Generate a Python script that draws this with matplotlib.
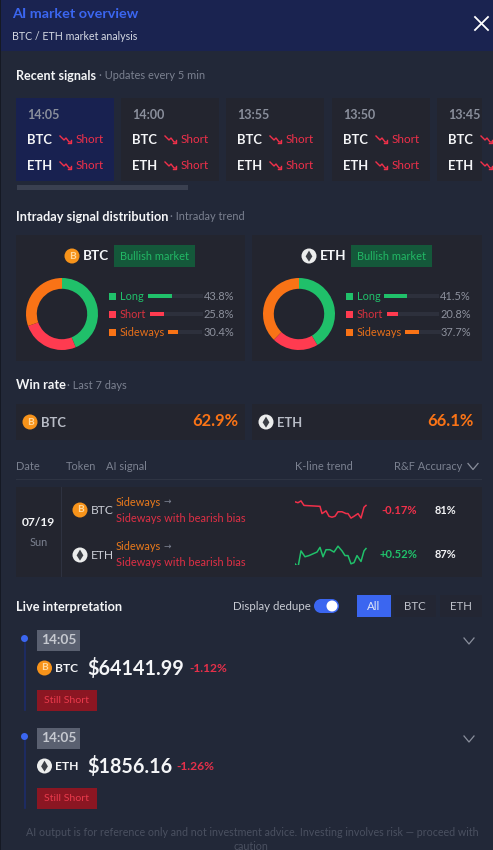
import matplotlib
matplotlib.use("Agg")
import matplotlib.pyplot as plt
from matplotlib.patches import Rectangle, Circle, Polygon

plt.rcParams['font.family'] = ['Lato', 'DejaVu Sans']

# ---------- data ----------
signal_times = ["14:05", "14:00", "13:55", "13:50", "13:45"]
dist_labels = ["Long", "Short", "Sideways"]
btc_dist = [43.8, 25.8, 30.4]
eth_dist = [41.5, 20.8, 37.7]
win_rates = {"BTC": "62.9%", "ETH": "66.1%"}
table_headers = ["Date", "Token", "AI signal", "K-line trend", "R&F Accuracy"]
btc_t = [0, 3, 6, 9, 25, 27, 31, 34, 37, 40, 43, 47, 51, 53, 56, 59, 63, 66, 69, 71]
btc_v = [84, 83, 85, 80, 79, 71, 74, 68, 67, 68, 73, 73, 71, 71, 66, 68, 71, 66, 78, 80]
eth_t = [0, 3, 6, 10, 14, 22, 25, 28, 31, 35, 39, 43, 47, 50, 53, 56, 59, 62, 66, 69, 71]
eth_v = [53, 50, 64, 59, 60, 63, 67, 59, 65, 65, 63, 68, 64, 60, 60, 53, 54, 60, 55, 64, 66]

BG = "#222838"; HEAD = "#1a2350"; CARD = "#23252f"; CARDB = "#182150"
RED = "#f0304a"; GREEN = "#20c06a"; ORANGE = "#f97316"; BLUE = "#3b66f0"
GREY = "#7b8190"; WHITE = "#f4f5f7"
SERIES = [GREEN, "#ff3b50", ORANGE]

W, H = 493, 850
fig = plt.figure(figsize=(W / 100, H / 100), dpi=100, facecolor=BG)
ax = fig.add_axes([0, 0, 1, 1])
ax.set_xlim(0, W); ax.set_ylim(H, 0); ax.axis("off")


def px(s):
    return s * 0.72


def T(x, y, s, size=12, color=WHITE, weight="normal", ha="left", va="center", **kw):
    return ax.text(x, y, s, fontsize=px(size), color=color, fontweight=weight, ha=ha, va=va, **kw)


def R(x0, y0, x1, y1, c, z=1):
    p = Rectangle((x0, y0), x1 - x0, y1 - y0, facecolor=c, edgecolor="none", zorder=z)
    ax.add_patch(p)
    return p


def coin(cx, cy, kind, r=7.5):
    if kind == "BTC":
        ax.add_patch(Circle((cx, cy), r, facecolor="#f7931a", edgecolor="none", zorder=3))
        ax.text(cx, cy, "B", fontsize=px(r * 1.35), color="#ffd9a0", fontweight="bold",
                ha="center", va="center", zorder=4)
    else:
        ax.add_patch(Circle((cx, cy), r, facecolor="#eceded", edgecolor="none", zorder=3))
        ax.add_patch(Polygon([(cx, cy - r * .72), (cx + r * .45, cy + r * .05), (cx, cy + r * .75),
                              (cx - r * .45, cy + r * .05)], closed=True, facecolor="#3c3f46",
                             edgecolor="none", zorder=4))


def chevron(cx, cy, c="#8a8f9c"):
    ax.plot([cx - 5, cx, cx + 5], [cy - 3, cy + 3, cy - 3], color=c, lw=0.9, zorder=4)


# ---------- header ----------
R(0, 0, W, 51, HEAD)
R(0, 0, 1, H, "#151924", 2)
T(12, 14, "AI market overview", 14.4, BLUE, "bold")
T(12, 36.5, "BTC / ETH market analysis", 10.6, "#d5d9e3")
ax.plot([475, 488], [17, 30], color="white", lw=1.3)
ax.plot([475, 488], [30, 17], color="white", lw=1.3)

# ---------- recent signals ----------
T(16, 75.5, "Recent signals", 12.6, WHITE, "bold")
T(99, 75, "· Updates every 5 min", 11, GREY)
card_edges = [(16, 114), (121, 219), (226, 324), (332, 430), (437, 482)]
text_x = [27, 132, 237, 343, 448]
clip = Rectangle((0, 0), 482, H, transform=ax.transData)
for i, (t, (a, b), x) in enumerate(zip(signal_times, card_edges, text_x)):
    R(a, 98, b, 181, CARDB if i == 0 else CARD)
    T(x, 115, t, 12.5, "#8a8f9c", "bold")
    for y, tok in ((139.5, "BTC"), (165.5, "ETH")):
        T(x, y, tok, 13, WHITE, "bold")
        ax.plot([x + 33, x + 37, x + 39, x + 42, x + 44], [y - 3.5, y + .5, y - 1.5, y + 2.5, y + 2.5],
                color=RED, lw=1, zorder=4, clip_path=clip)
        ax.plot([x + 41, x + 44, x + 44], [y + 3, y + 3, y],
                color=RED, lw=1, zorder=4, clip_path=clip)
        if i < 4:
            T(x + 49, y - .5, "Short", 11.6, RED)
R(17, 185, 188, 190, "#3a4050")

# ---------- intraday ----------
T(16, 216.5, "Intraday signal distribution", 12.7, WHITE, "bold")
T(170, 216, "· Intraday trend", 11, GREY)

tracks = {"BTC": [(148, 203), (150, 203), (168, 202)], "ETH": [(384, 439), (387, 439), (405, 442)]}
fill_scale = 55 / 100.0


def panel(x0, x1, tok, dist, coin_x, badge_x, offset):
    R(x0, 235, x1, 361, CARD)
    coin(coin_x, 256, tok)
    T(coin_x + 11, 256.5, tok, 13.5, WHITE, "bold")
    R(badge_x, 245, badge_x + 81, 267, "#14583a")
    T(badge_x + 40.5, 256, "Bullish market", 11, "#22b865", ha="center")
    cx = 62 + offset
    pie_ax = fig.add_axes([(cx - 36) / W, 1 - (314 + 36) / H, 72 / W, 72 / H])
    pie_ax.pie(dist, colors=SERIES, startangle=90, counterclock=False, radius=1,
               wedgeprops=dict(width=0.30, edgecolor="none"))
    pie_ax.set_xlim(-1, 1); pie_ax.set_ylim(-1, 1); pie_ax.axis("off")
    ys = [296, 314, 332]
    lab_c = [GREEN, "#d8323f", "#e8701a"]
    for y, lab, v, sc, lc, (ta, tb) in zip(ys, dist_labels, dist, SERIES, lab_c, tracks[tok]):
        R(109 + offset, y - 3.5, 116 + offset, y + 3.5, sc)
        T(120 + offset, y + .5, lab, 11, lc)
        R(ta, y - 2, tb, y + 2, "#2d303c")
        R(ta, y - 2, ta + v * fill_scale * (tb - ta) / 55, y + 2, sc, 2)
        T(234 + (offset if tok == "BTC" else 237), y + .5, f"{v}%", 11, "#8d919d", ha="right")


panel(16, 245, "BTC", btc_dist, 72, 114, 0)
panel(252, 482, "ETH", eth_dist, 309, 351, 237)

# ---------- win rate ----------
T(16, 385, "Win rate", 12.8, WHITE, "bold")
T(67, 385, "· Last 7 days", 11, GREY)
for x0, x1, tok, cx, rx in ((16, 245, "BTC", 30, 238), (252, 482, "ETH", 266, 474)):
    R(x0, 404, x1, 440, CARD)
    coin(cx, 422, tok)
    T(cx + 11, 422.5, tok, 13, "#b8bcc6", "bold")
    T(rx, 421, win_rates[tok], 16.5, ORANGE, "bold", ha="right")

# ---------- table ----------
for x, h in zip([16, 66, 106, 295, 394], table_headers):
    T(x, 466.5, h, 11, GREY)
chevron(473, 466.5)
R(16, 479, 482, 480, "#2e3443")
R(16, 487, 482, 577, CARD)
R(61, 487, 62, 577, "#2e3240")
T(38.5, 523, "07/19", 12, WHITE, "bold", ha="center")
T(38.5, 543, "Sun", 11, GREY, ha="center")
rows = [("BTC", 510, "-0.17%", RED, "81%"), ("ETH", 555, "+0.52%", GREEN, "87%")]
for tok, y, chg, col, acc in rows:
    coin(80, y, tok)
    T(91, y + .5, tok, 12, "#c9ccd4")
    T(116, y - 8, "Sideways", 11, "#ea7a1c")
    T(163, y - 8.5, "→", 9, "#7b8190", family="DejaVu Sans")
    T(116, y + 8, "Sideways with bearish bias", 11, "#df2f45")
    T(417, y, chg, 11.2, col, "bold", ha="right")
    T(445, y, acc, 11, WHITE, "bold", ha="center")

sp_btc = fig.add_axes([295 / W, 1 - 519 / H, 72 / W, 19 / H])
sp_btc.plot(btc_t, btc_v, color=RED, lw=1.1)
sp_btc.set_xlim(0, 72); sp_btc.set_ylim(65, 86); sp_btc.axis("off")
sp_eth = fig.add_axes([295 / W, 1 - 565 / H, 72 / W, 20 / H])
sp_eth.plot(eth_t, eth_v, color=GREEN, lw=1.1)
sp_eth.set_xlim(0, 72); sp_eth.set_ylim(52, 69); sp_eth.axis("off")

# ---------- live ----------
T(16, 607, "Live interpretation", 12.7, WHITE, "bold")
T(233, 606.5, "Display dedupe", 11.5, "#c9ccd4")
R(321, 599, 332, 613, BLUE, 2)
ax.add_patch(Circle((321, 606), 7, facecolor=BLUE, edgecolor="none", zorder=2))
ax.add_patch(Circle((332, 606), 7, facecolor=BLUE, edgecolor="none", zorder=2))
ax.add_patch(Circle((332, 606), 5.5, facecolor="white", edgecolor="none", zorder=3))
for x0, x1, s, c, tc in ((357, 391, "All", BLUE, "#dfe5f7"), (394, 436, "BTC", "#232633", "#c0c3cc"),
                         (440, 482, "ETH", "#232633", "#c0c3cc")):
    R(x0, 595, x1, 617, c)
    T((x0 + x1) / 2, 606, s, 11.5, tc, ha="center")

items = [("BTC", 638, "$64141.99", "-1.12%", 189),
         ("ETH", 736, "$1856.16", "-1.26%", 176)]
for tok, y, price, chg, chg_x in items:
    ax.plot([24.5, 24.5], [y + 4, y + 72], color="#1d2c6a", lw=1.2, zorder=1)
    ax.add_patch(Circle((24.5, y + .5), 3.5, facecolor=BLUE, edgecolor="none", zorder=3))
    R(37, y - 8, 80, y + 13, "#5a6070")
    T(58.5, y + 2.5, "14:05", 13.6, "#c6c9d0", "bold", ha="center")
    coin(44.5, y + 30, tok)
    T(55, y + 30.5, tok, 12, WHITE, "bold")
    T(87, y + 30, price, 19.8, WHITE, "bold")
    T(chg_x, y + 31, chg, 12, "#e6304a", "bold")
    R(37, y + 52, 97, y + 73, "#8b1622")
    T(67, y + 62.5, "Still Short", 10.5, "#ea3a4c", ha="center")
    chevron(469, y + 3)

T(252.5, 832, "AI output is for reference only and not investment advice. Investing involves risk — proceed with",
  10.6, "#4a5060", ha="center")
T(251, 847, "caution", 10.6, "#4a5060", ha="center")

fig.savefig("out.png", dpi=100, facecolor=BG)
